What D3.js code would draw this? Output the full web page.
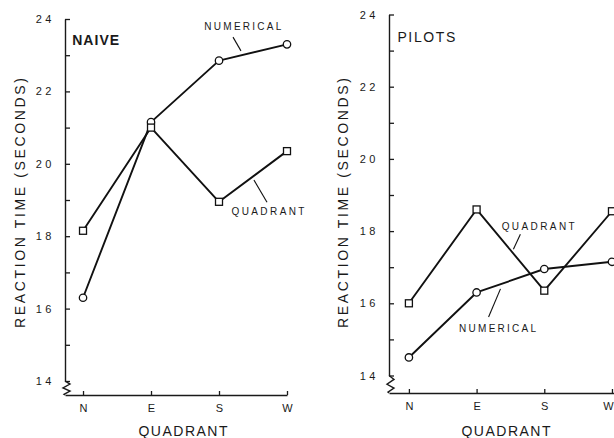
<!DOCTYPE html>
<html>
<head>
<meta charset="utf-8">
<script src="https://cdn.jsdelivr.net/npm/d3@7"></script>
<style>
  html, body { margin: 0; padding: 0; background: #fff; }
  svg { display: block; font-family: "Liberation Sans", Arial, sans-serif; }
  text { fill: #1a1a1a; }
</style>
</head>
<body>
<svg id="chart" width="614" height="438"></svg>
<script>
// Quadrant categories along the x axis
const quadrants = ["N", "E", "S", "W"];

// Mean reaction times, naive subjects
const naiveNumerical = [16.3, 21.15, 22.85, 23.3];
const naiveQuadrant  = [18.15, 21.0, 18.95, 20.35];

// Mean reaction times, pilots
const pilotsNumerical = [14.5, 16.3, 16.95, 17.15];
const pilotsQuadrant  = [16.0, 18.6, 16.35, 18.55];

// Y axis ticks: every unit, labelled on even values
const yTicks = d3.range(14, 25);
const yLabelled = [14, 16, 18, 20, 22, 24];

const svg = d3.select("#chart");

const panels = [
  {
    title: "NAIVE", bold: true,
    numerical: naiveNumerical, quadrant: naiveQuadrant,
    xRange: [65, 287], xDomain: [-0.265, 3],
    yRange: [381, 19],
    axisBottom: 395,
    yTitleX: 20, xTitleX: 183,
    titlePos: [-0.16, 23.28],
    lastTickShift: 0,
    numLabel: { at: [2.35, 23.70], leader: [[2.206, 23.50], [2.323, 23.12]] },
    quadLabel: { at: [2.72, 18.59], leader: [[2.514, 19.55], [2.706, 18.94]] }
  },
  {
    title: "PILOTS", bold: false,
    numerical: pilotsNumerical, quadrant: pilotsQuadrant,
    xRange: [389, 614], xDomain: [-0.294, 3.03],
    yRange: [375.5, 14.5],
    axisBottom: 393,
    yTitleX: 343, xTitleX: 506,
    titlePos: [-0.17, 23.24],
    lastTickShift: -4,
    numLabel: { at: [1.31, 15.20], leader: [[1.353, 16.40], [1.177, 15.62]] },
    quadLabel: { at: [1.91, 18.03], leader: [[1.647, 17.91], [1.544, 17.50]] }
  }
];

panels.forEach(p => {
  const g = svg.append("g");
  const x = d3.scaleLinear().domain(p.xDomain).range(p.xRange);
  const y = d3.scaleLinear().domain([14, 24]).range(p.yRange);
  const x0 = p.xRange[0];

  // Y axis: inward ticks, spaced-out numerals on even values
  const yAxis = d3.axisLeft(y)
    .tickValues(yTicks)
    .tickSize(-5)
    .tickSizeOuter(0)
    .tickPadding(10)
    .tickFormat(d => yLabelled.includes(d) ? String(d) : "");
  const ya = g.append("g").attr("transform", `translate(${x0},0)`).call(yAxis);
  ya.select(".domain").attr("stroke", "#1a1a1a").attr("stroke-width", 1.4);
  ya.selectAll(".tick line").attr("stroke", "#1a1a1a").attr("stroke-width", 1.3);
  ya.selectAll(".tick text")
    .attr("font-size", 11)
    .attr("letter-spacing", "3.5px")
    .attr("fill", "#333")
    .attr("font-family", "'Liberation Sans', Arial, sans-serif");

  // Axis break between the lowest tick and the x axis
  const yb = y(14), xb = p.axisBottom;
  const h = xb - yb;
  g.append("path")
    .attr("d", `M${x0},${yb} L${x0 + 5},${yb + h * 0.22} L${x0 - 2},${yb + h * 0.5} L${x0 + 5},${yb + h * 0.72} L${x0 - 1},${yb + h * 0.95} L${x0},${xb}`)
    .attr("fill", "none").attr("stroke", "#1a1a1a").attr("stroke-width", 1.4);

  // X axis with upward ticks at each quadrant
  const xAxis = d3.axisBottom(x)
    .tickValues([0, 1, 2, 3])
    .tickSize(-4)
    .tickSizeOuter(0)
    .tickPadding(9)
    .tickFormat(i => quadrants[i]);
  const xa = g.append("g").attr("transform", `translate(0,${xb})`).call(xAxis);
  xa.select(".domain").attr("stroke", "#1a1a1a").attr("stroke-width", 1.5);
  xa.selectAll(".tick line").attr("stroke", "#1a1a1a").attr("stroke-width", 1.3);
  xa.selectAll(".tick text")
    .attr("font-size", 11)
    .attr("fill", "#333")
    .attr("font-family", "'Liberation Sans', Arial, sans-serif")
    .attr("dx", d => d === 3 ? p.lastTickShift : 0);

  // Axis titles
  g.append("text")
    .attr("transform", `translate(${p.yTitleX},203) rotate(-90)`)
    .attr("text-anchor", "middle")
    .attr("dominant-baseline", "central")
    .attr("font-size", 14)
    .attr("textLength", 250)
    .attr("lengthAdjust", "spacing")
    .text("REACTION TIME (SECONDS)");
  g.append("text")
    .attr("x", p.xTitleX - 44.5).attr("y", 436)
    .attr("font-size", 14)
    .attr("textLength", 89)
    .attr("lengthAdjust", "spacing")
    .text("QUADRANT");

  // Panel title
  g.append("text")
    .attr("x", x(p.titlePos[0])).attr("y", y(p.titlePos[1]))
    .attr("font-size", 14)
    .attr("font-weight", p.bold ? "bold" : "normal")
    .attr("textLength", p.bold ? 47 : 58)
    .attr("lengthAdjust", "spacing")
    .text(p.title);

  // Series lines
  const line = d3.line().x((d, i) => x(i)).y(d => y(d));
  [p.numerical, p.quadrant].forEach(vals => {
    g.append("path")
      .attr("d", line(vals))
      .attr("fill", "none")
      .attr("stroke", "#111")
      .attr("stroke-width", 1.9)
      .attr("stroke-linejoin", "round");
  });

  // Markers: circles for numerical, squares for quadrant
  g.selectAll(".num").data(p.numerical).join("circle")
    .attr("cx", (d, i) => x(i)).attr("cy", d => y(d)).attr("r", 3.7)
    .attr("fill", "#fff").attr("stroke", "#111").attr("stroke-width", 1.3);
  const s = 7;
  g.selectAll(".quad").data(p.quadrant).join("rect")
    .attr("x", (d, i) => x(i) - s / 2).attr("y", d => y(d) - s / 2)
    .attr("width", s).attr("height", s)
    .attr("fill", "#fff").attr("stroke", "#111").attr("stroke-width", 1.3);

  // Series labels with leader lines
  [[p.numLabel, "NUMERICAL", 77], [p.quadLabel, "QUADRANT", 73]].forEach(([lab, txt, w]) => {
    g.append("text")
      .attr("x", x(lab.at[0])).attr("y", y(lab.at[1]))
      .attr("text-anchor", "middle")
      .attr("font-size", 10)
      .attr("fill", "#222")
      .attr("textLength", w)
      .attr("lengthAdjust", "spacing")
      .text(txt);
    g.append("line")
      .attr("x1", x(lab.leader[0][0])).attr("y1", y(lab.leader[0][1]))
      .attr("x2", x(lab.leader[1][0])).attr("y2", y(lab.leader[1][1]))
      .attr("stroke", "#111").attr("stroke-width", 1.1);
  });
});
</script>
</body>
</html>
